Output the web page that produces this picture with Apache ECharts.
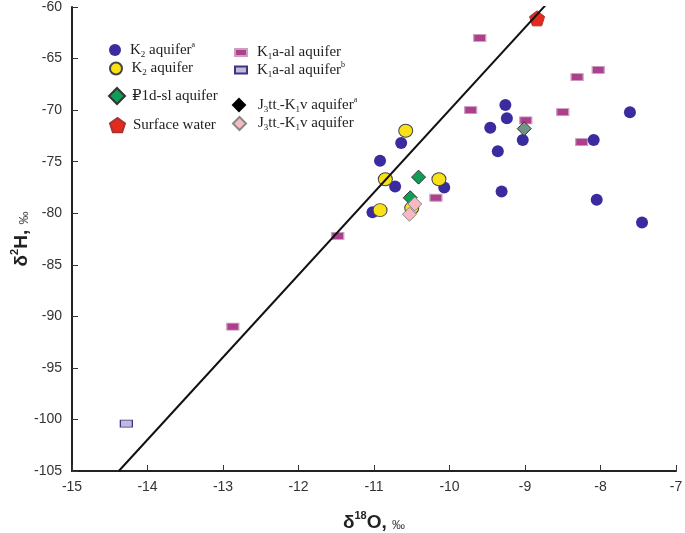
<!DOCTYPE html>
<html><head><meta charset="utf-8">
<script src="https://cdn.jsdelivr.net/npm/echarts@6/dist/echarts.min.js"></script>
<style>html,body{margin:0;padding:0;background:#fff}#c{width:685px;height:533px}</style>
</head><body><div id="c"></div>
<script>
const k2aPoints = [[-9.26,-69.5],[-9.24,-70.8],[-9.46,-71.7],[-9.03,-72.9],[-9.36,-74.0],[-9.31,-77.9],[-7.61,-70.2],[-8.09,-72.9],[-8.05,-78.7],[-7.45,-80.9],[-10.64,-73.2],[-10.92,-74.9],[-10.72,-77.4],[-10.07,-77.5],[-11.02,-79.9]];
const k2Points = [[-10.58,-72.0],[-10.85,-76.7],[-10.14,-76.7],[-10.92,-79.7],[-10.50,-79.5]];
const p1dPoints = [[-10.41,-76.5],[-10.52,-78.5]];
const surfacePoints = [[-8.84,-61.1]];
const k1aPoints = [[-9.60,-63.0],[-8.31,-66.8],[-8.03,-66.1],[-9.72,-70.0],[-8.50,-70.2],[-8.99,-71.0],[-8.25,-73.1],[-10.18,-78.5],[-11.48,-82.2],[-12.87,-91.0]];
const k1abPoints = [[-14.28,-100.4]];
const j3aPoints = [[-9.01,-71.8]];
const j3Points = [[-10.46,-79.1],[-10.53,-80.1]];
const gmwlLine = [[-14.38,-105.0],[-8.70,-59.6]];
const xTicks = [-15,-14,-13,-12,-11,-10,-9,-8,-7];
const yTicks = [-105,-100,-95,-90,-85,-80,-75,-70,-65,-60];

const pentagon = 'path://M0,-10L9.51,-3.09L5.88,8.09L-5.88,8.09L-9.51,-3.09Z';
const serif = '"Liberation Serif","DejaVu Serif",serif';
const sans = '"Liberation Sans",Arial,sans-serif';
const legendText = {
  'K2a': '{t|K}{sub|2}{t| aquifer}{sup|a}',
  'K2': '{t|K}{sub|2}{t| aquifer}',
  'P1d': '{t|₽1d-sl aquifer}',
  'Surface': '{t|Surface water}',
  'K1a': '{t|K}{sub|1}{t|a-al aquifer}',
  'K1ab': '{t|K}{sub|1}{t|a-al aquifer}{sup|b}',
  'J3a': '{t|J}{sub|3}{t|tt}{sub|-}{t|-K}{sub|1}{t|v aquifer}{sup|a}',
  'J3': '{t|J}{sub|3}{t|tt}{sub|-}{t|-K}{sub|1}{t|v aquifer}'
};
const rich = {
  t:{fontFamily:serif,fontSize:15,color:'#222',lineHeight:18,verticalAlign:'middle'},
  sub:{fontFamily:serif,fontSize:9,color:'#222',lineHeight:9,verticalAlign:'bottom'},
  sup:{fontFamily:serif,fontSize:8,color:'#222',lineHeight:9,verticalAlign:'top'}
};
function leg(name, icon, left, top, w, h, textPad, itemStyle){
  const d = {name:name, icon:icon};
  if (itemStyle) d.itemStyle = itemStyle;
  return {data:[d], left:left, top:top, padding:0, itemWidth:w, itemHeight:h, selectedMode:false,
    formatter: n => legendText[n], textStyle:{rich:rich, padding:[0,0,0,textPad]}};
}
const nameRich = {
  b:{fontFamily:sans,fontWeight:'bold',fontSize:19,color:'#222',lineHeight:22,verticalAlign:'bottom'},
  bs:{fontFamily:sans,fontWeight:'bold',fontSize:11,color:'#222',lineHeight:22,verticalAlign:'top'},
  n:{fontFamily:sans,fontSize:13,color:'#444',lineHeight:18,verticalAlign:'bottom'}
};
const chart = echarts.init(document.getElementById('c'));
chart.setOption({
  animation:false,
  backgroundColor:'#fff',
  grid:{left:72, right:9, top:7, bottom:62, containLabel:false, outerBoundsMode:'none'},
  legend:[
    leg('K2a','circle',109,41,12,12,4),
    leg('K2','circle',109,61,13,12,4),
    leg('P1d','diamond',108,87,16,16,2),
    leg('Surface',pentagon,109,117,15,15,3),
    leg('K1a','rect',234,45,12,7,5),
    leg('K1ab','rect',234,61,12,7,5),
    leg('J3a','diamond',232,96,12,12,8,{color:'#000',borderColor:'#000'}),
    leg('J3','diamond',232,116,13,13,7)
  ],
  xAxis:{type:'value', min:xTicks[0], max:xTicks[xTicks.length-1], interval:1,
    name:'{b|δ}{bs|18}{b|O, }{n|‰}', nameLocation:'middle', nameGap:39, nameMoveOverlap:false,
    nameTextStyle:{rich:nameRich},
    axisLine:{onZero:false, lineStyle:{color:'#222',width:2}},
    axisTick:{inside:true,length:6,lineStyle:{color:'#333',width:1}},
    axisLabel:{fontFamily:sans,fontSize:14,color:'#333',margin:9},
    splitLine:{show:false}},
  yAxis:{type:'value', min:yTicks[0], max:yTicks[yTicks.length-1], interval:5,
    name:'{b|δ}{bs|2}{b|H, }{n|‰}', nameLocation:'middle', nameGap:41, nameRotate:90, nameMoveOverlap:false,
    nameTextStyle:{rich:nameRich},
    axisLine:{onZero:false, lineStyle:{color:'#222',width:2}},
    axisTick:{inside:true,length:6,lineStyle:{color:'#333',width:1}},
    axisLabel:{fontFamily:sans,fontSize:14,color:'#333',margin:10},
    splitLine:{show:false}},
  series:[
    {type:'line', name:'GMWL', data:gmwlLine, symbol:'none', lineStyle:{color:'#111',width:2}, silent:true},
    {type:'scatter', name:'K1a', data:k1aPoints, symbol:'rect', symbolSize:[12,7], itemStyle:{opacity:1,color:'#ad3f8c',borderColor:'#c9a0c0',borderWidth:1}},
    {type:'scatter', name:'K1ab', data:k1abPoints, symbol:'rect', symbolSize:[12,7], itemStyle:{opacity:1,color:'#c3b9de',borderColor:'#3a3680',borderWidth:1}},
    {type:'scatter', name:'K2a', data:k2aPoints, symbol:'circle', symbolSize:12, itemStyle:{opacity:1,color:'#3a2c9e',borderWidth:0}},
    {type:'scatter', name:'K2', data:k2Points, symbol:'circle', symbolSize:[14,13], itemStyle:{opacity:1,color:'#f8e116',borderColor:'#444',borderWidth:1}},
    {type:'scatter', name:'P1d', data:p1dPoints, symbol:'diamond', symbolSize:14, itemStyle:{opacity:1,color:'#0f9e55',borderColor:'#333',borderWidth:1}},
    {type:'scatter', name:'J3', data:j3Points, symbol:'diamond', symbolSize:14, itemStyle:{opacity:1,color:'#f8b9c3',borderColor:'#888',borderWidth:1}},
    {type:'scatter', name:'J3a', data:j3aPoints, symbol:'diamond', symbolSize:14, itemStyle:{opacity:1,color:'#73938a',borderColor:'#333',borderWidth:1}},
    {type:'scatter', name:'Surface', data:surfacePoints, symbol:pentagon, symbolSize:15, itemStyle:{opacity:1,color:'#e42a1c',borderColor:'#a33',borderWidth:1}}
  ]
});
</script></body></html>
